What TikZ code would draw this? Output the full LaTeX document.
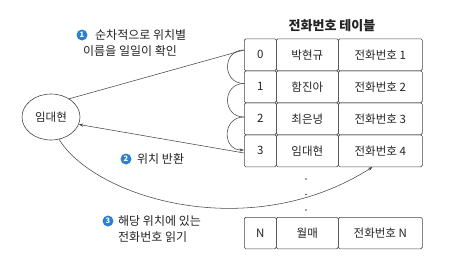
\documentclass[tikz,border=0pt]{standalone}
\usepackage{fontspec}
\setmainfont{Noto Sans CJK KR}
\usetikzlibrary{arrows.meta,shapes.geometric,calc}
\definecolor{ln}{RGB}{70,70,70}
\definecolor{txt}{RGB}{35,35,35}
\definecolor{numblue}{RGB}{45,128,205}
\begin{document}
\begin{tikzpicture}[x=1pt,y=-1pt,
  font=\fontsize{11.5}{14}\selectfont, text=txt,
  cell/.style={draw=ln, line width=0.6pt, rounded corners=1.5pt, inner sep=0pt,
    minimum height=32pt, anchor=north west},
  idx/.style={cell, minimum width=32pt},
  nam/.style={cell, minimum width=62pt},
  tel/.style={cell, minimum width=84pt},
  conn/.style={draw=ln, line width=0.55pt},
  tip/.style={-{Stealth[length=4.5pt,width=3.2pt]}},
  num/.style={circle, fill=numblue, text=white, inner sep=0pt, minimum size=11pt,
    font=\fontsize{7.5}{8}\selectfont\bfseries},
  lbl/.style={inner sep=0pt, font=\fontsize{12}{16.5}\selectfont}
]
\useasboundingbox (0,0) rectangle (467,271);

% title
\node[font=\fontsize{13}{15}\selectfont\bfseries] (title) at (332,26) {전화번호 테이블};

% table rows
\node[idx] (i0) at (244,38.5) {0};
\node[nam] (n0) at (276,38.5) {박현규};
\node[tel] (t0) at (338,38.5) {전화번호 1};
\node[idx] (i1) at (244,70.5) {1};
\node[nam] (n1) at (276,70.5) {함진아};
\node[tel] (t1) at (338,70.5) {전화번호 2};
\node[idx] (i2) at (244,102.5) {2};
\node[nam] (n2) at (276,102.5) {최은녕};
\node[tel] (t2) at (338,102.5) {전화번호 3};
\node[idx] (i3) at (244,134.5) {3};
\node[nam] (n3) at (276,134.5) {임대현};
\node[tel] (t3) at (338,134.5) {전화번호 4};
\node[idx,minimum height=31.5pt] (iN) at (244,217) {N};
\node[nam,minimum height=31.5pt] (nN) at (276,217) {월매};
\node[tel,minimum height=31.5pt] (tN) at (338,217) {전화번호 N};

% vertical dots
\foreach \yy in {179,194.5,210}
  \fill[ln] (306,\yy) circle (0.8pt);

% person
\node[ellipse, draw=ln, line width=0.6pt, minimum width=58pt, minimum height=46pt,
  inner sep=0pt] (e) at (51,117) {임대현};

% connection points
\coordinate (p0) at (244,50);
\coordinate (p1) at (244,83.5);
\coordinate (p2) at (244,117);
\coordinate (p3) at (244,150);
\coordinate (q3) at (244,153);
\coordinate (t3tip) at (372.5,167);

% step 1
\draw[conn] (e.45) -- (p0);
\draw[conn] (p0) .. controls ($(p0)+(-22,0)$) and ($(p1)+(-22,0)$) .. (p1);
\draw[conn] (p1) .. controls ($(p1)+(-22,0)$) and ($(p2)+(-22,0)$) .. (p2);
\draw[conn,tip] (p2) .. controls ($(p2)+(-22,0)$) and ($(p3)+(-22,0)$) .. (p3);

% step 2
\draw[conn,tip] (q3) -- (e.-15);

% step 3
\draw[conn,tip] (e.-70) .. controls (95,198) and (250,245) .. (t3tip);

% labels
\node[num] (c1) at (82,35) {1};
\node[lbl, align=left, anchor=west] (l1) at (83,43.25) {\hspace*{12pt}순차적으로 위치별\\이름을 일일이 확인};
\node[num] (c2) at (126,159) {2};
\node[lbl, anchor=west] (l2) at (137,159) {위치 반환};
\node[num] (c3) at (108,221) {3};
\node[lbl, align=left, anchor=west] (l3) at (118,229.25) {해당 위치에 있는\\전화번호 읽기};
\end{tikzpicture}
\end{document}
